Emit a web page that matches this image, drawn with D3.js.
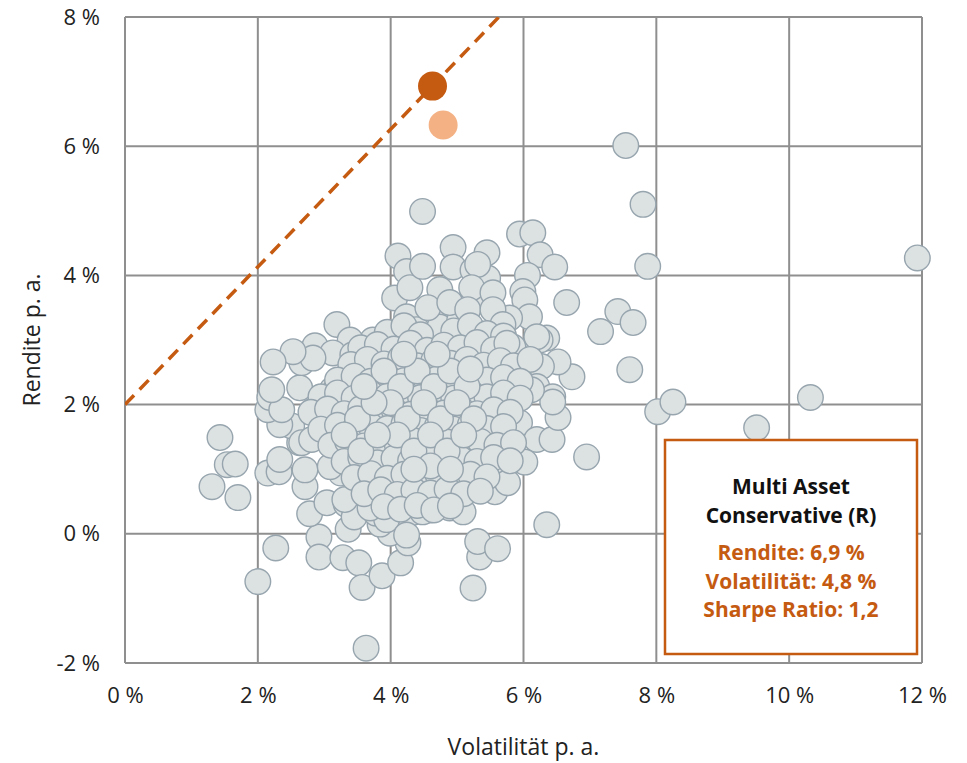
<!DOCTYPE html>
<html>
<head>
<meta charset="utf-8">
<script src="https://cdn.jsdelivr.net/npm/d3@7"></script>
<style>
  body { margin: 0; background: #fff; }
  svg text { font-family: "Open Sans", "Noto Sans", sans-serif; }
</style>
</head>
<body>
<div id="chart"></div>
<script>
// Achsen
let xTicks = [0, 2, 4, 6, 8, 10, 12];
let yTicks = [-2, 0, 2, 4, 6, 8];

// Fonds [Volatilität, Rendite]
let peers = [
  [7.54,6.01],[7.80,5.10],[7.87,4.14],[11.93,4.27],[4.48,4.99],
  [6.65,3.58],[7.42,3.44],[7.16,3.13],[7.65,3.27],[7.60,2.54],[6.73,2.43],[6.95,1.19],[8.02,1.89],[8.25,2.04],
  [10.32,2.11],[9.51,1.64],[6.35,0.14],[5.24,-0.84],[3.63,-1.77],[2.00,-0.74],[2.27,-0.22],
  [1.43,1.49],[1.54,1.07],[1.66,1.08],[1.31,0.73],[1.70,0.56],
  [2.92,-0.05],[2.92,-0.36],[3.28,-0.37],[3.52,-0.45],[3.57,-0.83],[3.87,-0.65],[4.15,-0.45],[4.26,-0.14],[3.99,0.01],[3.36,0.07],
  [5.34,-0.36],[5.31,-0.12],[5.61,-0.23],
  [2.78,0.31],[3.04,0.48],[3.33,0.46],[3.45,0.26],[3.84,0.15],[3.78,0.32],[3.94,0.22],[4.33,0.33],[4.59,0.37],[4.48,0.34],[4.67,0.42],[4.89,0.40],[5.09,0.34],
  [2.15,0.94],[2.32,0.96],[2.71,0.73],[3.52,0.88],[3.25,0.94],[2.33,1.15],[2.63,1.41],[2.51,1.67],[2.33,1.69],[2.15,1.92],[2.81,1.89],
  [2.18,2.11],[2.63,2.26],[2.36,1.92],[3.12,2.23],[3.61,2.54],[3.69,2.43],[2.66,1.41],[2.71,0.99],[3.09,1.04],[3.54,0.91],[3.31,0.53],[3.69,0.40],[2.81,1.46],
  [3.19,3.24],[3.73,3.00],[2.86,2.91],[3.39,3.00],[3.13,2.80],[2.66,2.65],[3.43,2.77],[2.83,2.72],[2.53,2.82],[2.23,2.66],[2.21,2.23],[3.19,2.26],[3.64,2.54],[4.09,2.59],
  [4.11,4.30],[4.24,4.06],[4.06,3.65],[4.29,3.81],[4.48,4.14],[4.70,3.36],[4.54,3.39],[4.24,3.36],[4.39,3.16],[4.18,3.11],[4.74,3.20],
  [5.94,4.64],[6.14,4.66],[6.25,4.32],[6.47,4.13],[6.06,4.00],
  [4.94,4.43],[4.94,4.13],[5.45,4.35],[5.24,4.08],[5.46,3.96],[5.99,3.75],[6.02,3.62],[6.09,3.36],[5.79,3.34],[6.35,3.03],[6.25,3.00],
  [6.52,2.66],[6.27,2.59],[5.97,2.82],[5.90,2.59],[6.20,2.28],[6.44,2.12],[5.24,3.75],[5.52,3.51],[5.24,3.58],[5.04,3.31],[4.74,3.78],
  [5.31,4.17],[5.22,3.81],[5.54,3.73],[4.56,3.50],[4.89,3.58],[5.16,3.47],[5.54,3.47],[6.20,3.05],[5.94,2.72],[5.84,2.89],[5.39,3.00],[5.69,3.24],
  [5.94,1.72],[6.20,1.46],[6.43,1.46],[6.52,1.80],[6.44,2.04],[6.12,2.23],[5.76,1.35],[5.60,0.99],[5.57,0.65],[5.76,0.79],[6.02,1.11],[5.31,0.80],[5.04,0.63],[5.28,0.71],
  [4.24,-0.02],[4.14,1.15],[4.48,1.19],[4.70,0.94],[4.39,0.79],[4.14,0.68],[3.84,0.73],[3.13,1.50],[3.13,1.72],[3.49,1.66],[3.42,1.41],[3.73,1.30],[3.99,1.46],
  [3.95,3.12],[4.2,3.22],[4.45,3.08],[4.95,3.14],[5.2,3.22],[5.45,3.1],[5.7,3.06],
  [3.55,2.88],[3.8,2.93],[4.05,2.86],[4.3,2.95],[4.55,2.84],[4.8,2.92],[5.05,2.88],[5.3,2.96],[5.55,2.85],[5.75,2.95],
  [3.4,2.62],[3.65,2.7],[3.9,2.63],[4.15,2.72],[4.4,2.6],[4.65,2.68],[4.9,2.64],[5.15,2.7],[5.4,2.61],[5.65,2.68],[5.85,2.6],[6.1,2.7],
  [3.2,2.38],[3.45,2.44],[3.7,2.36],[3.95,2.43],[4.2,2.37],[4.45,2.45],[4.7,2.4],[4.95,2.35],[5.2,2.44],[5.45,2.38],[5.7,2.42],[5.95,2.36],
  [2.95,2.12],[3.2,2.18],[3.45,2.1],[3.7,2.17],[3.95,2.13],[4.2,2.2],[4.45,2.11],[4.7,2.16],[4.95,2.1],[5.2,2.19],[5.45,2.12],[5.7,2.18],[5.95,2.1],
  [2.8,1.88],[3.05,1.93],[3.3,1.86],[3.55,1.94],[3.8,1.88],[4.05,1.92],[4.3,1.85],[4.55,1.93],[4.8,1.87],[5.05,1.94],[5.3,1.86],[5.55,1.92],[5.8,1.88],
  [2.95,1.62],[3.2,1.68],[3.45,1.61],[3.7,1.67],[3.95,1.63],[4.2,1.7],[4.45,1.6],[4.7,1.66],[4.95,1.62],[5.2,1.69],[5.45,1.63],[5.7,1.66],
  [3.1,1.37],[3.35,1.43],[3.6,1.36],[3.85,1.42],[4.1,1.38],[4.35,1.44],[4.6,1.36],[4.85,1.42],[5.1,1.38],[5.35,1.43],[5.6,1.37],[5.85,1.41],
  [3.3,1.12],[3.55,1.18],[3.8,1.1],[4.05,1.17],[4.3,1.13],[4.55,1.19],[4.8,1.11],[5.05,1.16],[5.3,1.12],[5.55,1.18],[5.8,1.13],
  [3.45,0.87],[3.7,0.93],[3.95,0.86],[4.2,0.92],[4.45,0.88],[4.7,0.94],[4.95,0.86],[5.2,0.92],[5.45,0.88],
  [3.6,0.62],[3.85,0.68],[4.1,0.61],[4.35,0.67],[4.6,0.63],[4.85,0.69],[5.1,0.62],[5.35,0.66],
  [3.9,0.42],[4.15,0.38],[4.4,0.44],[4.65,0.37],[4.9,0.43],
  [3.9,2.52],[4.15,2.28],[4.4,2.52],[4.65,2.28],[4.9,2.52],[5.15,2.28],[4.0,2.03],[4.25,1.78],[4.5,2.03],[4.75,1.78],[5.0,2.03],[5.25,1.78],
  [4.1,1.53],[4.35,1.28],[4.6,1.53],[4.85,1.28],[5.1,1.53],[3.5,1.78],[3.75,2.03],[3.3,1.53],[3.55,1.28],[3.8,1.53],[4.6,1.05],[4.35,1.0],
  [4.9,1.0],[4.2,2.78],[4.7,2.78],[5.2,2.55],[3.6,2.28]
];

// Multi Asset Conservative (R) und Vergleich
let fund = [4.63, 6.93];
let fundOld = [4.79, 6.33];
// Kapitalmarktlinie
let cml = [[0, 2], [5.63, 8]];

let boxLines = ["Multi Asset", "Conservative (R)", "Rendite: 6,9 %", "Volatilität: 4,8 %", "Sharpe Ratio: 1,2"];

let orange = "#c55a11";
let width = 967, height = 763;
let margin = {left: 125, right: 45, top: 17, bottom: 100};

let svg = d3.select("#chart").append("svg")
  .attr("width", width)
  .attr("height", height);

let x = d3.scaleLinear().domain([0, 12]).range([margin.left, width - margin.right]);
let y = d3.scaleLinear().domain([-2, 8]).range([height - margin.bottom, margin.top]);

// Gitter
let grid = svg.append("g");
grid.selectAll(".vx").data(xTicks).enter().append("line")
  .attr("x1", d => x(d)).attr("x2", d => x(d))
  .attr("y1", y(-2)).attr("y2", y(8))
  .attr("stroke", "#8f8f8f").attr("stroke-width", 2);
grid.selectAll(".hy").data(yTicks).enter().append("line")
  .attr("x1", x(0)).attr("x2", x(12))
  .attr("y1", d => y(d)).attr("y2", d => y(d))
  .attr("stroke", "#8f8f8f").attr("stroke-width", 2);

// Achsenbeschriftung
let xAxis = svg.append("g")
  .attr("transform", `translate(0,${y(-2)})`)
  .call(d3.axisBottom(x).tickValues(xTicks).tickSize(0).tickPadding(24).tickFormat(d => `${d} %`));
let yAxis = svg.append("g")
  .attr("transform", `translate(${x(0)},0)`)
  .call(d3.axisLeft(y).tickValues(yTicks).tickSize(0).tickPadding(25).tickFormat(d => `${d} %`));
svg.selectAll(".domain").remove();
svg.selectAll(".tick text")
  .style("font-size", "22px")
  .style("font-family", "'Open Sans', sans-serif")
  .attr("fill", "#222");

svg.append("text")
  .text("Volatilität p. a.")
  .attr("x", (x(0) + x(12)) / 2)
  .attr("y", 755)
  .attr("text-anchor", "middle")
  .style("font-size", "23px")
  .attr("fill", "#222");

svg.append("text")
  .text("Rendite p. a.")
  .attr("transform", `translate(40,${y(3)}) rotate(-90)`)
  .attr("text-anchor", "middle")
  .style("font-size", "23px")
  .attr("fill", "#222");

// Linie
svg.append("clipPath").attr("id", "plot")
  .append("rect")
  .attr("x", x(0)).attr("y", y(8))
  .attr("width", x(12) - x(0)).attr("height", y(-2) - y(8));

svg.append("line")
  .attr("clip-path", "url(#plot)")
  .attr("x1", x(cml[0][0])).attr("y1", y(cml[0][1]))
  .attr("x2", x(cml[1][0])).attr("y2", y(cml[1][1]))
  .attr("stroke", orange)
  .attr("stroke-width", 3.5)
  .attr("stroke-dasharray", "13,8");

// Punkte
svg.append("g").selectAll("circle")
  .data(peers)
  .enter().append("circle")
  .attr("cx", d => x(d[0]))
  .attr("cy", d => y(d[1]))
  .attr("r", 12.8)
  .attr("fill", "#dce1e2")
  .attr("stroke", "#97a5ae")
  .attr("stroke-width", 1.4);

svg.append("circle")
  .attr("cx", x(fundOld[0])).attr("cy", y(fundOld[1]))
  .attr("r", 14.5)
  .attr("fill", "#f4b183");

svg.append("circle")
  .attr("cx", x(fund[0])).attr("cy", y(fund[1]))
  .attr("r", 14.5)
  .attr("fill", orange);

// Infobox
let box = svg.append("g");
box.append("rect")
  .attr("x", 665).attr("y", 440)
  .attr("width", 252).attr("height", 214)
  .attr("fill", "#fff")
  .attr("stroke", orange)
  .attr("stroke-width", 2.5);

let lineY = [494, 523, 560, 589, 617];
box.selectAll(".bt").data(boxLines).enter().append("text")
  .text(d => d)
  .attr("x", 791)
  .attr("y", (d, i) => lineY[i])
  .attr("text-anchor", "middle")
  .style("font-size", "21px")
  .style("font-weight", "bold")
  .attr("fill", (d, i) => i < 2 ? "#111" : orange);
</script>
</body>
</html>
